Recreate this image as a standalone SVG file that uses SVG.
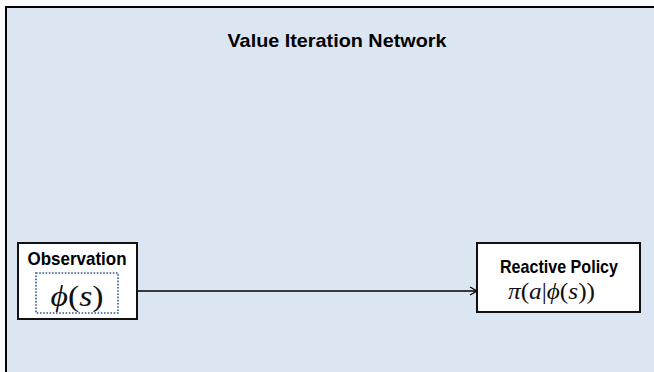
<svg xmlns="http://www.w3.org/2000/svg" width="654" height="372" viewBox="0 0 654 372">
  <defs>
    <style>
      .frame { fill: #dce6f2; stroke: #000; stroke-width: 2; }
      .node { fill: #fff; stroke: #111; stroke-width: 2; }
      .inner { fill: none; stroke: #2f5a8e; stroke-width: 1.6; stroke-dasharray: 1.6 1.6; }
      .head { font-family: "Liberation Sans", Arial, sans-serif; font-weight: bold; fill: #000; text-anchor: middle; }
      .math { font-family: "Liberation Serif", "Times New Roman", serif; fill: #111; }
      .mi { font-style: italic; }
      .edge { fill: none; stroke: #000; stroke-width: 1.3; }
    </style>
    <marker id="open-arrow" markerWidth="10" markerHeight="10" refX="8" refY="5" orient="auto" markerUnits="userSpaceOnUse">
      <path d="M1,1 L8,5 L1,9" fill="none" stroke="#000" stroke-width="1.3"/>
    </marker>
  </defs>

  <rect x="0" y="0" width="654" height="372" fill="#fafafa"/>

  <!-- outer container -->
  <g id="vin">
    <rect class="frame" x="6" y="7" width="660" height="380"/>
    <text class="head" x="337" y="47" font-size="18.5" textLength="219" lengthAdjust="spacingAndGlyphs">Value Iteration Network</text>
  </g>

  <!-- connectors -->
  <g id="connectors">
    <line class="edge" x1="118" y1="291" x2="477" y2="291" marker-end="url(#open-arrow)"/>
  </g>

  <!-- observation node -->
  <g id="observation">
    <rect class="node" x="18" y="243" width="119" height="76"/>
    <text class="head" x="77" y="265" font-size="18.5" textLength="99" lengthAdjust="spacingAndGlyphs">Observation</text>
    <rect class="inner" x="36" y="273" width="82" height="40"/>
    <text class="math" x="77" y="306" font-size="29" text-anchor="middle" textLength="53" lengthAdjust="spacingAndGlyphs"><tspan class="mi">ϕ</tspan>(<tspan class="mi">s</tspan>)</text>
  </g>

  <!-- reactive policy node -->
  <g id="reactive-policy">
    <rect class="node" x="477" y="243" width="163" height="69"/>
    <text class="head" x="559" y="273" font-size="18.5" textLength="118" lengthAdjust="spacingAndGlyphs">Reactive Policy</text>
    <text class="math" x="508" y="299" font-size="23" textLength="87" lengthAdjust="spacingAndGlyphs"><tspan class="mi">π</tspan>(<tspan class="mi">a</tspan>|<tspan class="mi">ϕ</tspan>(<tspan class="mi">s</tspan>))</text>
  </g>
</svg>
